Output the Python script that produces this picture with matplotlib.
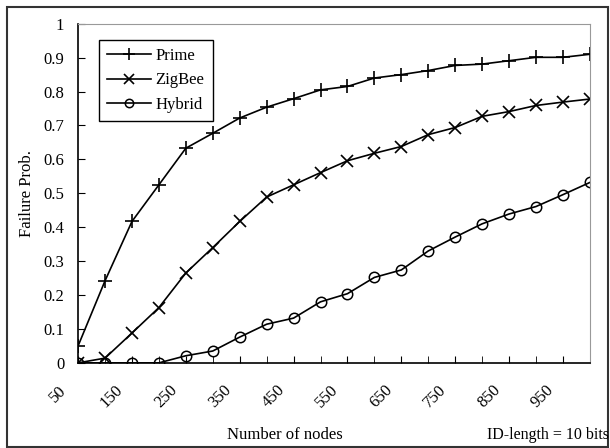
import numpy as np
import matplotlib
matplotlib.use("Agg")
from matplotlib import pyplot as plt
from matplotlib.patches import Rectangle
import matplotlib.transforms as mtrans

plt.rcParams['font.family'] = ['Liberation Serif', 'DejaVu Serif']

nodes = [50, 100, 150, 200, 250, 300, 350, 400, 450, 500,
         550, 600, 650, 700, 750, 800, 850, 900, 950, 1000]
prime = [0.05, 0.242, 0.417, 0.525, 0.633, 0.677, 0.722, 0.754, 0.779, 0.805,
         0.815, 0.84, 0.85, 0.862, 0.877, 0.881, 0.891, 0.901, 0.901, 0.91]
zigbee = [0.0, 0.014, 0.088, 0.163, 0.265, 0.34, 0.417, 0.489, 0.525, 0.561,
          0.596, 0.618, 0.638, 0.673, 0.694, 0.727, 0.741, 0.759, 0.769, 0.778]
hybrid = [0.0, 0.0, 0.0, 0.0, 0.021, 0.035, 0.076, 0.114, 0.132, 0.18,
          0.204, 0.252, 0.274, 0.33, 0.371, 0.41, 0.439, 0.461, 0.496, 0.532]
xtick_labels = ['50', '150', '250', '350', '450', '550', '650', '750', '850', '950']
ytick_labels = ['0', '0.1', '0.2', '0.3', '0.4', '0.5', '0.6', '0.7', '0.8', '0.9', '1']

fig = plt.figure(figsize=(6.1, 4.48), dpi=100)
ax = fig.add_axes([0.128, 0.19, 0.839, 0.757])

ax.plot(nodes, prime, color='black', lw=1.2, marker='+', ms=10, mew=1.2, label='Prime')
ax.plot(nodes, zigbee, color='black', lw=1.2, marker='x', ms=9, mew=1.2, label='ZigBee')
ax.plot(nodes, hybrid, color='black', lw=1.2, marker='o', ms=7.5, mew=1.1,
        mfc='none', label='Hybrid')

ax.set_xlim(50, 1000)
ax.set_ylim(0, 1)
ax.set_yticks(np.arange(0, 1.01, 0.1))
ax.set_yticklabels(ytick_labels)
ax.set_xticks(nodes[::2])
ax.set_xticklabels(xtick_labels, rotation=45, ha='center', va='top')
ax.set_xticks(nodes, minor=True)
ax.tick_params(axis='both', which='both', direction='in', length=5, labelsize=12)
ax.tick_params(axis='x', pad=14)
ax.tick_params(axis='y', pad=10)
shift = mtrans.ScaledTranslation(-0.2, 0, fig.dpi_scale_trans)
for lbl in ax.get_xticklabels():
    lbl.set_transform(lbl.get_transform() + shift)

for s in ['top', 'right']:
    ax.spines[s].set_color('#999999')
for s in ['left', 'bottom']:
    ax.spines[s].set_color('black')
    ax.spines[s].set_linewidth(1.2)

ax.set_ylabel('Failure Prob.', fontsize=12, labelpad=6)
fig.text(0.467, 0.029, 'Number of nodes', fontsize=12, ha='center', va='center')
fig.text(0.798, 0.029, 'ID-length = 10 bits', fontsize=11.5, ha='left', va='center')

leg = ax.legend(loc='upper left', bbox_to_anchor=(0.041, 0.953), borderaxespad=0,
                fontsize=12, fancybox=False, edgecolor='black', framealpha=1,
                handlelength=2.6, borderpad=0.5, labelspacing=0.5, handletextpad=0.3,
                markerscale=0.8)
leg.get_frame().set_linewidth(1.0)

fig.patches.append(Rectangle((0.011, 0.003), 0.986, 0.982, transform=fig.transFigure,
                             fill=False, edgecolor='#333333', lw=1.5))

fig.savefig('out.png', dpi=100)
